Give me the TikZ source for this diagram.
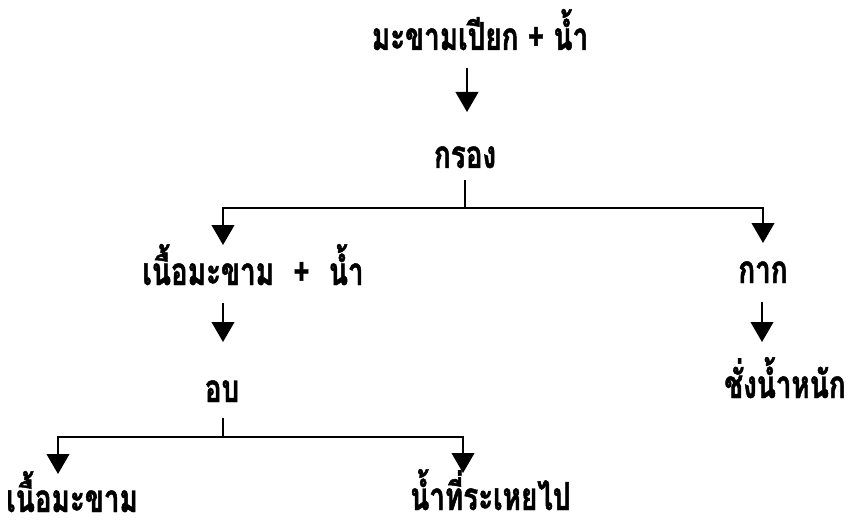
\documentclass[tikz,border=0pt]{standalone}
\usepackage{fontspec}
\newfontfamily\thaifont[Script=Thai, FakeStretch=0.72, BoldFeatures={FakeBold=1.2}]{Loma}
\usetikzlibrary{arrows.meta,calc}
\tikzset{
  lbl/.style={inner sep=0pt, anchor=base, font=\thaifont\bfseries\fontsize{29}{32}\selectfont},
  conn/.style={line width=1.5pt},
  arr/.style={conn, -{Triangle[width=17pt,length=15pt]}}
}
\begin{document}
\begin{tikzpicture}[x=0.75pt,y=-0.75pt]
\useasboundingbox (0,0) rectangle (848,520);
\node[lbl] (top) at (480,50) {มะขามเปียก + น้ำ};
\node[lbl] (filt) at (465,168) {กรอง};
\node[lbl] (pulp) at (253,285) {เนื้อมะขาม\enspace +\enspace น้ำ};
\node[lbl] (kak) at (763,283) {กาก};
\node[lbl] (ob) at (222,402) {อบ};
\node[lbl] (weigh) at (785,398) {ชั่งน้ำหนัก};
\node[lbl, anchor=base west] (pulp2) at (6,512) {เนื้อมะขาม};
\node[lbl, anchor=base west] (water) at (410,510) {น้ำที่ระเหยไป};
% top -> filter
\draw[arr] ($(top.base -| filt.base)+(2,18)$) -- ($(filt.base)+(2,-56)$);
% filter split
\draw[conn] ($(filt.base)+(0,12)$) -- ++(0,28) coordinate (j1);
\draw[arr] (j1) -| ($(pulp.base -| ob.base)+(1,-40)$);
\draw[arr] (j1) -| ($(kak.base)+(0,-40)$);
% pulp -> bake
\draw[arr] ($(pulp.base -| ob.base)+(1,18)$) -- ($(ob.base)+(1,-60)$);
% residue -> weigh
\draw[arr] ($(kak.base)+(-1,19)$) -- ($(weigh.base -| kak.base)+(-1,-56)$);
% bake split
\draw[conn] ($(ob.base)+(1,16)$) -- ++(0,19) coordinate (j2);
\draw[arr] (j2) -| ($(pulp2.base west)+(52,-38)$);
\draw[arr] (j2) -| ($(water.base west)+(53,-37)$);
\end{tikzpicture}
\end{document}
